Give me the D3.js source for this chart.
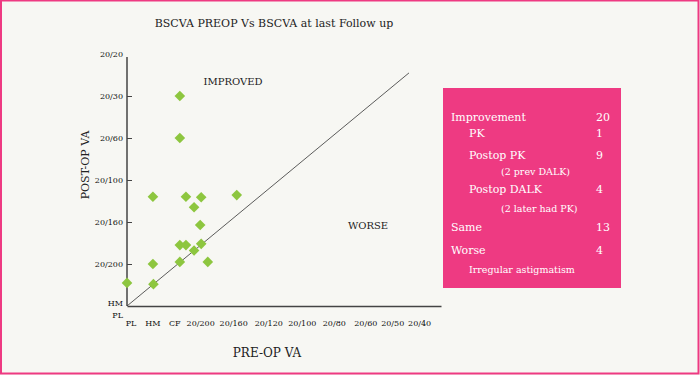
<!DOCTYPE html>
<html>
<head>
<meta charset="utf-8">
<script src="https://cdn.jsdelivr.net/npm/d3@7"></script>
<style>
  html, body { margin: 0; padding: 0; background: #f7f7f3; }
  svg { display: block; }
  text { font-family: "DejaVu Serif", serif; fill: #222; }
</style>
</head>
<body>
<div id="chart"></div>
<script>
"use strict";

// Tick labels
const xTickLabels = ["PL", "HM", "CF", "20/200", "20/160", "20/120", "20/100", "20/80", "20/60", "20/50", "20/40"];
const xTickValues = [0.07, 0.5, 0.93, 1.44, 2.09, 2.78, 3.44, 4.07, 4.69, 5.22, 5.75];
const yTickLabels = ["HM", "20/200", "20/160", "20/100", "20/60", "20/30", "20/20"];
const yTickValues = [0, 1, 2, 3, 4, 5, 6];

// Patients: pre-op (x) vs post-op (y) acuity
const preOp  = [1.04, 1.04, 0.51, 1.16, 1.46, 2.16, 1.32, 1.44, 1.04, 1.16, 1.46, 1.32, 0.51, 1.04, 1.59, 0.0, 0.52];
const postOp = [5.0, 4.0, 2.6, 2.6, 2.59, 2.64, 2.35, 1.93, 1.45, 1.45, 1.48, 1.32, 1.0, 1.05, 1.05, 0.55, 0.52];

// Summary table
const summaryLabels = ["Improvement", "PK", "Postop PK", "(2 prev DALK)", "Postop DALK", "(2 later had PK)", "Same", "Worse", "Irregular astigmatism"];
const summaryValues = ["20", "1", "9", "", "4", "", "13", "4", ""];
const summaryLevels = [0, 1, 1, 2, 1, 2, 0, 0, 1];

const width = 700, height = 375;
const pink = "#ee3a82";

let svg = d3.select("#chart").append("svg")
    .attr("width", width)
    .attr("height", height);

// Background and frame
svg.append("rect")
    .attr("x", 1).attr("y", 0.5)
    .attr("width", width - 2.5).attr("height", height - 2)
    .style("fill", "#f7f7f3")
    .style("stroke", pink)
    .style("stroke-width", 2);

let x = d3.scaleLinear().domain([0, 6.18]).range([127, 441]);
let y = d3.scaleLinear().domain([0, 6]).range([306, 54]);

// Title
svg.append("text")
    .attr("x", 274).attr("y", 27)
    .attr("text-anchor", "middle")
    .style("font-size", "11px")
    .text("BSCVA PREOP Vs BSCVA at last Follow up");

// Y axis
let yAxis = d3.axisLeft(y)
    .tickValues(yTickValues)
    .tickFormat((d, i) => yTickLabels[i])
    .tickSizeInner(-5)
    .tickSizeOuter(0)
    .tickPadding(4);

let gy = svg.append("g")
    .attr("transform", "translate(" + x(0) + ",0)")
    .call(yAxis);
gy.select(".domain").attr("d", "M0," + y(0) + "V" + (y(6) + 3))
    .style("stroke", "#444").style("stroke-width", 1.5);
gy.selectAll(".tick line").style("stroke", "#444")
    .filter(d => d === 0 || d === 6).remove();
gy.selectAll(".tick text")
    .style("font-family", "'DejaVu Serif', serif")
    .style("font-size", "8px")
    .style("fill", "#111")
    .attr("dy", d => d === 0 ? "-0.1em" : "0.32em");
gy.selectAll(".tick").filter(d => d === 0).append("text")
    .attr("x", -4).attr("dy", "1.4em")
    .attr("text-anchor", "end")
    .style("font-size", "8px")
    .style("fill", "#111")
    .text("PL");

// X axis
let xAxis = d3.axisBottom(x)
    .tickValues(xTickValues)
    .tickFormat((d, i) => xTickLabels[i])
    .tickSize(0)
    .tickPadding(14);

let gx = svg.append("g")
    .attr("transform", "translate(0," + y(0) + ")")
    .call(xAxis);
gx.select(".domain").style("stroke", "#444").style("stroke-width", 1.5);
gx.selectAll(".tick text")
    .style("font-family", "'DejaVu Serif', serif")
    .style("font-size", "8px")
    .style("fill", "#111");

// Axis titles
svg.append("text")
    .attr("transform", "translate(89,165) rotate(-90)")
    .attr("text-anchor", "middle")
    .style("font-size", "11px")
    .text("POST-OP VA");

svg.append("text")
    .attr("x", 267).attr("y", 357)
    .attr("text-anchor", "middle")
    .style("font-size", "12px")
    .text("PRE-OP VA");

// Line of no change
svg.append("line")
    .attr("x1", x(0)).attr("y1", y(0))
    .attr("x2", x(5.55)).attr("y2", y(5.55))
    .style("stroke", "#333")
    .style("stroke-width", 0.8);

svg.append("text")
    .attr("x", 233).attr("y", 85)
    .attr("text-anchor", "middle")
    .style("font-size", "10px")
    .text("IMPROVED");

svg.append("text")
    .attr("x", 368).attr("y", 229)
    .attr("text-anchor", "middle")
    .style("font-size", "10px")
    .text("WORSE");

// Points
svg.append("g").selectAll("path")
    .data(preOp.map((d, i) => [d, postOp[i]]))
    .enter().append("path")
    .attr("d", d3.symbol().type(d3.symbolDiamond2).size(72))
    .attr("transform", d => "translate(" + x(d[0]) + "," + y(d[1]) + ")")
    .style("fill", "#8dc63f");

// Summary box
let box = svg.append("g").attr("transform", "translate(443,88)");
box.append("rect")
    .attr("width", 178).attr("height", 200)
    .style("fill", pink);

// Row baselines inside the box (uneven, as in the original layout)
let rowOffsets = [29, 45, 67, 84, 101, 121, 139, 162, 182];

let rows = box.selectAll("g.row")
    .data(summaryLabels)
    .enter().append("g")
    .attr("class", "row")
    .attr("transform", (d, i) => "translate(0," + rowOffsets[i] + ")");

rows.append("text")
    .attr("x", (d, i) => [8, 26, 58][summaryLevels[i]])
    .attr("dy", "0.35em")
    .style("fill", "#fff")
    .style("font-size", (d, i) => summaryLevels[i] === 2 || i === 8 ? "9.5px" : "11px")
    .text(d => d);

rows.append("text")
    .attr("x", 153)
    .attr("dy", "0.35em")
    .style("fill", "#fff")
    .style("font-size", "11px")
    .text((d, i) => summaryValues[i]);
</script>
</body>
</html>
